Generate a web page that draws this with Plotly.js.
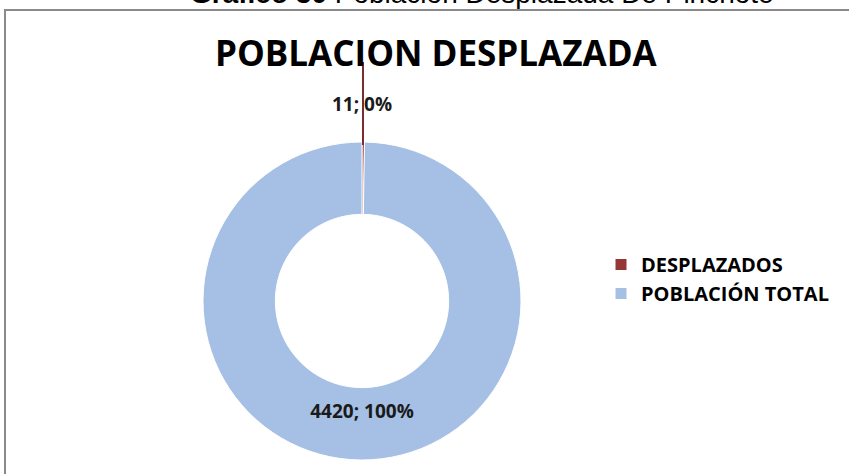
<!DOCTYPE html>
<html>
<head>
<meta charset="utf-8">
<script src="https://cdn.plot.ly/plotly-3.0.1.min.js"></script>
<style>html,body{margin:0;padding:0;background:#fff;}#chart{width:849px;height:474px;}</style>
</head>
<body>
<div id="chart"></div>
<script>
const labels = ["DESPLAZADOS", "POBLACIÓN TOTAL"];
const values = [11, 4420];
const colors = ["#953735", "#a5c0e4"];
const chartTitle = "POBLACION DESPLAZADA";
const pageCaption = "<b>Gráfico 30</b> Población Desplazada De Pinchote";

const W = 849, H = 474;
const px = x => x / W;
const py = y => 1 - y / H;
const total = values.reduce((a, b) => a + b, 0);
const labelText = i => values[i] + "; " + Math.round(values[i] / total * 100) + "%";

const trace = {
  type: "pie",
  labels: labels,
  values: values,
  sort: false,
  direction: "clockwise",
  rotation: 0,
  hole: 0.545,
  marker: { colors: colors, line: { color: "#ffffff", width: 1 } },
  texttemplate: ["", "%{value}; %{percent:.0%}"],
  textposition: ["none", "inside"],
  insidetextorientation: "horizontal",
  textfont: { family: "Open Sans", size: 19, color: "#1a1a1a", weight: "bold" },
  domain: { x: [px(203), px(521)], y: [py(460), py(142)] },
  showlegend: true
};

const layout = {
  width: W, height: H,
  margin: { l: 0, r: 0, t: 0, b: 0 },
  paper_bgcolor: "#ffffff",
  showlegend: true,
  legend: {
    x: px(601), y: py(279), xanchor: "left", yanchor: "middle",
    font: { family: "Open Sans", size: 20, color: "#000", weight: "bold" },
    traceorder: "normal"
  },
  shapes: [
    { type: "rect", xref: "paper", yref: "paper", x0: px(5), x1: px(900), y0: py(10), y1: py(520),
      line: { color: "#8a8a8a", width: 2 }, fillcolor: "rgba(0,0,0,0)", layer: "below" },
    { type: "line", xref: "paper", yref: "paper", x0: px(363), x1: px(363), y0: py(62), y1: py(145),
      line: { color: "#7b2c2c", width: 2 }, layer: "above" }
  ],
  annotations: [
    { text: "<b>" + chartTitle + "</b>", xref: "paper", yref: "paper", x: px(436), y: py(52),
      xanchor: "center", yanchor: "middle", showarrow: false,
      font: { family: "Open Sans", size: 35, color: "#000" } },
    { text: labelText(0), xref: "paper", yref: "paper", x: px(362), y: py(104),
      xanchor: "center", yanchor: "middle", showarrow: false,
      font: { family: "Open Sans", size: 19, color: "#1a1a1a", weight: "bold" } },
    { text: pageCaption, xref: "paper", yref: "paper", x: px(482), y: py(-7),
      xanchor: "center", yanchor: "middle", showarrow: false,
      font: { family: "Liberation Sans", size: 28, color: "#000" } }
  ]
};

Plotly.newPlot("chart", [trace], layout, { displayModeBar: false, staticPlot: true });
</script>
</body>
</html>
